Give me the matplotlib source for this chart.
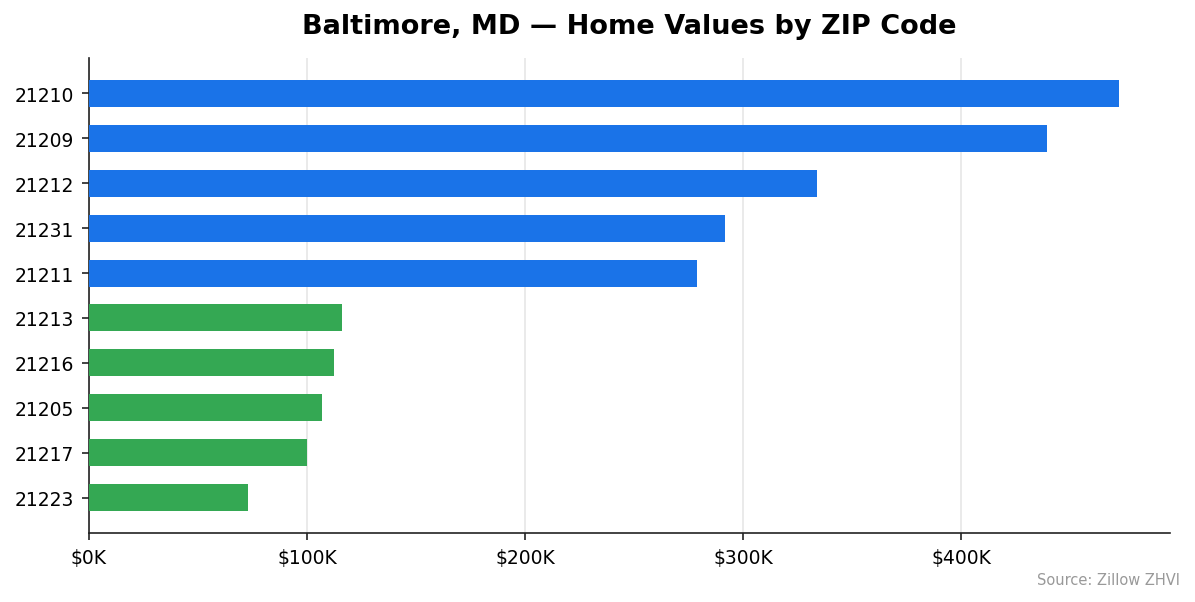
import matplotlib.pyplot as plt
from matplotlib.ticker import FuncFormatter

# ZIP codes (top to bottom) and typical home values in $K
zips = ["21210", "21209", "21212", "21231", "21211",
        "21213", "21216", "21205", "21217", "21223"]
values = [472.0, 439.4, 333.9, 291.7, 278.9,
          116.1, 112.4, 106.9, 100.0, 72.9]
groups = ["high"] * 5 + ["low"] * 5

BLUE = "#1a73e8"
GREEN = "#34a853"
colors = [BLUE if g == "high" else GREEN for g in groups]

DPI = 150
fig = plt.figure(figsize=(1195 / DPI, 603 / DPI), dpi=DPI)
ax = fig.add_axes([89 / 1195, 1 - 534 / 603, (1170 - 89) / 1195, (534 - 59) / 603])

# reverse so the first item is on top
ypos = list(range(len(zips)))[::-1]
ax.barh(ypos, values, height=0.6, color=colors, zorder=3)
ax.set_yticks(ypos)
ax.set_yticklabels(zips, fontsize=9)

ax.set_xlim(0, max(values) * 1.05)
ax.set_xticks([0, 100, 200, 300, 400])
ax.xaxis.set_major_formatter(FuncFormatter(lambda v, p: f"${v:.0f}K"))
ax.tick_params(axis="x", labelsize=9)
ax.tick_params(colors="#222222", labelcolor="black")

ax.grid(axis="x", color="#e6e6e6", linewidth=0.8, zorder=0)
ax.spines["top"].set_visible(False)
ax.spines["right"].set_visible(False)
for s in ("left", "bottom"):
    ax.spines[s].set_color("#222222")

ax.set_title("Baltimore, MD \u2014 Home Values by ZIP Code",
             fontsize=13, fontweight="bold", pad=12)
fig.text(1180 / 1195, 1 - 581 / 603, "Source: Zillow ZHVI",
         ha="right", va="center", fontsize=7, color="#999999")

fig.savefig("out.png", dpi=DPI)
